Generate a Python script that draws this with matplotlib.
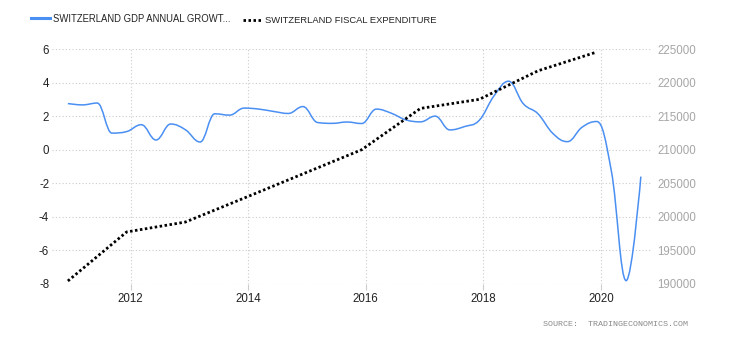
import numpy as np
import matplotlib
matplotlib.use('Agg')
from matplotlib import pyplot as plt
from matplotlib.path import Path
from matplotlib.patches import PathPatch
from matplotlib.lines import Line2D

# GDP annual growth rate (%), quarterly, 2010Q4 .. 2020Q3
gdp_dates = [2010.93 + 0.25 * i for i in range(40)]
gdp = [2.75, 2.67, 2.78, 0.99, 1.08, 1.49, 0.58, 1.53, 1.19, 0.46,
       2.14, 2.06, 2.48, 2.42, 2.28, 2.16, 2.57, 1.62, 1.57, 1.65,
       1.56, 2.42, 2.18, 1.78, 1.66, 2.00, 1.18, 1.38, 1.75, 3.20,
       4.08, 2.74, 2.14, 0.98, 0.48, 1.34, 1.68, -1.30, -7.80, -1.60]

# fiscal expenditure (CHF million), yearly 2010 .. 2019
fisc_dates = [2010.93, 2011.93, 2012.93, 2013.93, 2014.93,
              2015.93, 2016.93, 2017.93, 2018.93, 2019.93]
fisc = [190450, 197750, 199230, 202800, 206400,
        210000, 216150, 217500, 221750, 224550]

years = [2012, 2014, 2016, 2018, 2020]
left_ticks = [-8, -6, -4, -2, 0, 2, 4, 6]
right_ticks = [190000, 195000, 200000, 205000, 210000, 215000, 220000, 225000]

BLUE = '#4a8ff2'
GRID = '#cccccc'


def spline_path(xs, ys):
    # highcharts style spline through the points
    n = len(xs)
    lc = [(xs[i], ys[i]) for i in range(n)]
    rc = [(xs[i], ys[i]) for i in range(n)]
    s, d = 1.5, 2.5
    for i in range(1, n - 1):
        x, y = xs[i], ys[i]
        lx, ly = xs[i - 1], ys[i - 1]
        nx, ny = xs[i + 1], ys[i + 1]
        lcx = (s * x + lx) / d
        lcy = (s * y + ly) / d
        rcx = (s * x + nx) / d
        rcy = (s * y + ny) / d
        if rcx != lcx:
            corr = ((rcy - lcy) * (rcx - x)) / (rcx - lcx) + y - rcy
            lcy += corr
            rcy += corr
        if lcy > ly and lcy > y:
            lcy = max(ly, y)
            rcy = 2 * y - lcy
        elif lcy < ly and lcy < y:
            lcy = min(ly, y)
            rcy = 2 * y - lcy
        if rcy > ny and rcy > y:
            rcy = max(ny, y)
            lcy = 2 * y - rcy
        elif rcy < ny and rcy < y:
            rcy = min(ny, y)
            lcy = 2 * y - rcy
        lc[i] = (lcx, lcy)
        rc[i] = (rcx, rcy)
    verts = [(xs[0], ys[0])]
    codes = [Path.MOVETO]
    for i in range(1, n):
        verts += [rc[i - 1], lc[i], (xs[i], ys[i])]
        codes += [Path.CURVE4] * 3
    return Path(verts, codes)


plt.rcParams['font.family'] = ['Liberation Sans', 'DejaVu Sans']

fig = plt.figure(figsize=(7.3, 3.4), dpi=100)
ax = fig.add_axes([52 / 730, 56 / 340, 600 / 730, 235 / 340])
ax2 = ax.twinx()

ax.add_patch(PathPatch(spline_path(gdp_dates, gdp), fill=False,
                       edgecolor=BLUE, lw=1.1, zorder=3))
ax2.plot(fisc_dates, fisc, color='black', lw=2.0,
         linestyle=(0, (0.9, 0.9)), zorder=4)

ax.set_xlim(2010.66, 2020.87)
ax.set_ylim(-8, 6)
ax2.set_ylim(190000, 225000)

ax.set_xticks(years)
ax.set_xticklabels([str(y) for y in years])
ax.set_yticks(left_ticks)
ax.set_yticklabels([str(v) for v in left_ticks])
ax2.set_yticks(right_ticks)
ax2.set_yticklabels([str(v) for v in right_ticks])

for a in (ax, ax2):
    for sp in a.spines.values():
        sp.set_visible(False)

ax.grid(True, color=GRID, lw=0.8, linestyle=(0, (1, 2)))
ax.set_axisbelow(True)
ax.tick_params(axis='y', length=0, pad=2, labelsize=8.3, labelcolor='#222222')
ax.tick_params(axis='x', length=4, color=GRID, pad=2.5, labelsize=8.3,
               labelcolor='#222222')
ax2.tick_params(axis='y', length=0, pad=4, labelsize=8.3, labelcolor='#a6a6a6')

# legend on top
fig.add_artist(Line2D([31 / 730, 50 / 730], [1 - 18 / 340, 1 - 18 / 340],
                      color=BLUE, lw=2.2))
fig.text(53 / 730, 1 - 18.5 / 340, 'SWITZERLAND GDP ANNUAL GROWT...',
         fontsize=6.85, va='center', color='#222222')
fig.add_artist(Line2D([243 / 730, 262 / 730], [1 - 19.5 / 340, 1 - 19.5 / 340],
                      color='black', lw=2.0, linestyle=(0, (0.9, 0.9))))
fig.text(265 / 730, 1 - 20.5 / 340, 'SWITZERLAND FISCAL EXPENDITURE',
         fontsize=6.75, va='center', color='#222222')

fig.text(688 / 730, 1 - 325 / 340, 'SOURCE:  TRADINGECONOMICS.COM',
         fontsize=6, family='Liberation Mono', ha='right', va='center',
         color='#8a8a8a')

fig.savefig('out.png', dpi=100)
